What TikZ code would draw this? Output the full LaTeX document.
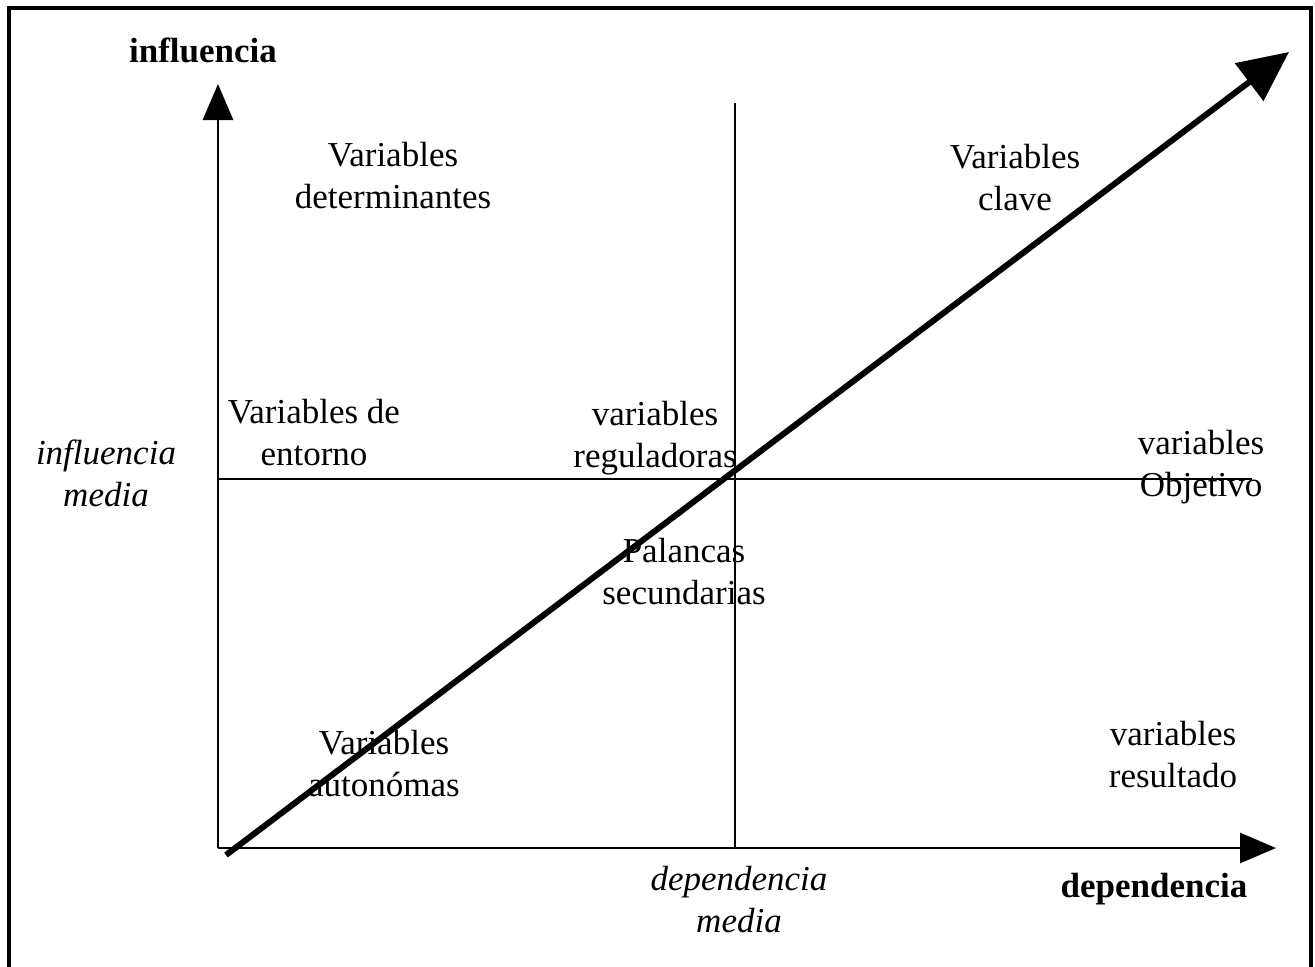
\documentclass[tikz,border=0pt]{standalone}
\usepackage{fontspec}
\setmainfont{Liberation Serif}
\usetikzlibrary{arrows.meta}
\begin{document}
\begin{tikzpicture}[x=0.5pt,y=-0.5pt,
  lbl/.style={align=center,inner sep=0pt,font=\fontsize{17.5pt}{21pt}\selectfont},
  axis/.style={line width=1.4pt,-{Triangle[length=18pt,width=15pt]}},
  guide/.style={line width=1.3pt},
  diag/.style={line width=3pt,-{Triangle[length=25pt,width=23pt]}},
  frame/.style={line width=2pt}]
\useasboundingbox (0,0) rectangle (1315,966);
\clip (0,0) rectangle (1315,966);
\draw[frame] (9,1000) -- (9,8) -- (1311,8) -- (1311,1000);
% coordinates
\coordinate (O) at (218,848);
\coordinate (ytip) at (218,84);
\coordinate (xtip) at (1276,848);
\coordinate (vtop) at (735,103);
\coordinate (vbot) at (735,848);
\coordinate (hl) at (218,479);
\coordinate (hr) at (1252,479);
\coordinate (dstart) at (226,855);
\coordinate (dtip) at (1289,52);
% lines
\draw[guide] (vtop) -- (vbot);
\draw[guide] (hl) -- (hr);
\draw[axis] (O) -- (ytip);
\draw[axis] (O) -- (xtip);
\draw[diag] (dstart) -- (dtip);
% labels
\node[lbl,font=\fontsize{17.5pt}{21pt}\selectfont\bfseries] (yl) at (203,50) {influencia};
\node[lbl,font=\fontsize{17.5pt}{21pt}\selectfont\bfseries] (xl) at (1154,889) {dependencia};
\node[lbl] (det) at (393,176) {Variables\\determinantes};
\node[lbl] (clave) at (1015,178) {Variables\\clave};
\node[lbl] (ent) at (314,433) {Variables de\\entorno};
\node[lbl] (reg) at (655,438) {variables\\reguladoras};
\node[lbl] (obj) at (1201,467) {variables\\Objetivo};
\node[lbl,font=\fontsize{17.5pt}{21pt}\selectfont\itshape] (im) at (106,473) {influencia\\media};
\node[lbl] (pal) at (684,572) {Palancas\\secundarias};
\node[lbl] (aut) at (384,764) {Variables\\autonómas};
\node[lbl] (res) at (1173,755) {variables\\resultado};
\node[lbl,font=\fontsize{17.5pt}{21pt}\selectfont\itshape] (dm) at (739,900) {dependencia\\media};
\end{tikzpicture}
\end{document}
